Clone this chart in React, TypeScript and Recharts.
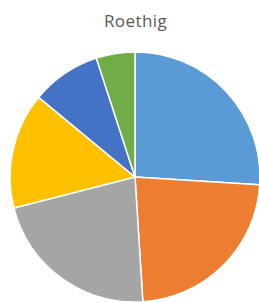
import React from 'react';
import { PieChart, Pie, Cell } from 'recharts';

const categories = ['A', 'B', 'C', 'D', 'E', 'F'];
const values = [26, 23, 22, 15, 9, 5];
const colors = ['#5B9BD5', '#ED7D31', '#A5A5A5', '#FFC000', '#4472C4', '#70AD47'];

const data = categories.map((name, i) => ({ name, value: values[i] }));

export default function App() {
  return (
    <div style={{ position: 'absolute', left: 0, top: 0, width: 259, height: 302, background: '#fff' }}>
      <div
        style={{
          position: 'absolute',
          left: 0,
          top: 9,
          width: 271,
          textAlign: 'center',
          fontFamily: 'Open Sans, sans-serif',
          fontSize: 17,
          letterSpacing: 0.4,
          color: '#595959',
        }}
      >
        Roethig
      </div>
      <PieChart width={259} height={302} margin={{ top: 0, right: 0, bottom: 0, left: 0 }}>
        <Pie
          data={data}
          dataKey="value"
          nameKey="name"
          cx={135}
          cy={177}
          outerRadius={125}
          startAngle={90}
          endAngle={-270}
          stroke="#fff"
          strokeWidth={1.5}
          isAnimationActive={false}
        >
          {data.map((d, i) => (
            <Cell key={d.name} fill={colors[i]} />
          ))}
        </Pie>
      </PieChart>
    </div>
  );
}
